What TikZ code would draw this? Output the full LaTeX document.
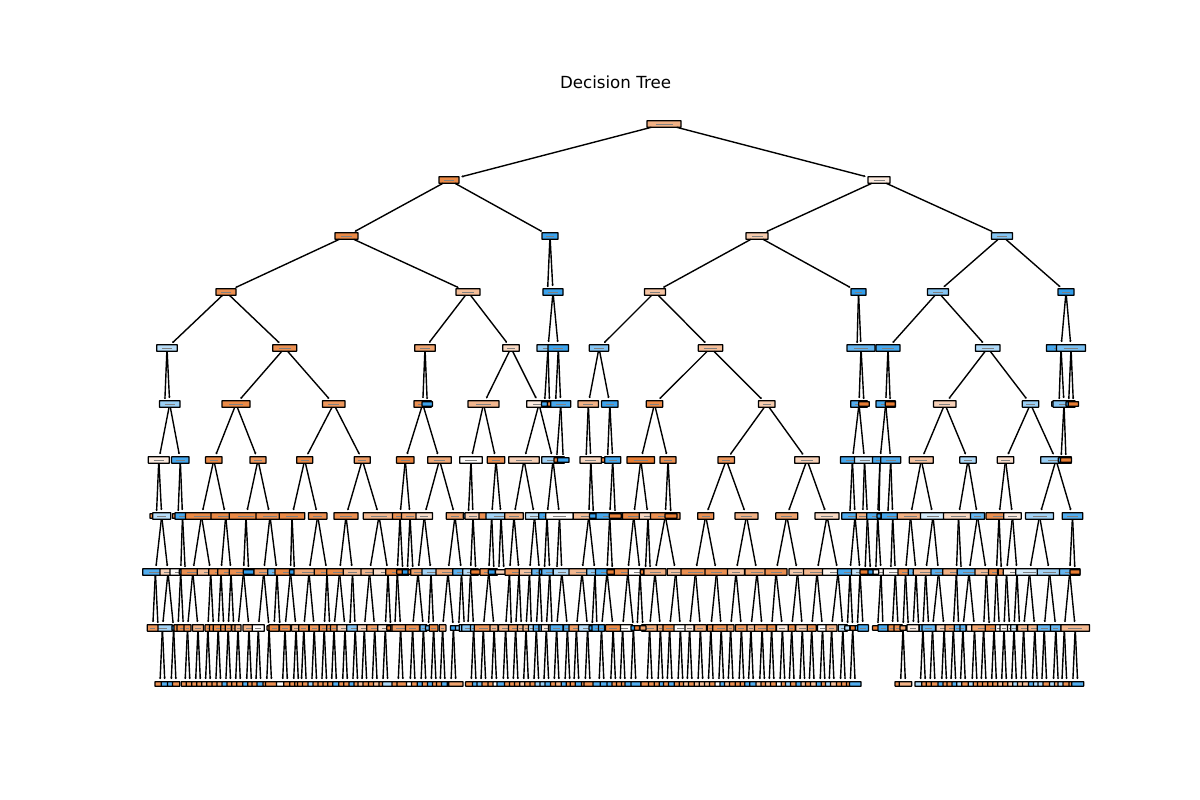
\documentclass[tikz,border=0pt]{standalone}
\usepackage{fontspec}
\setmainfont{DejaVu Sans}
\usetikzlibrary{arrows.meta}
\selectcolormodel{rgb}
\definecolor{O}{rgb}{0.91,0.49,0.20}
\definecolor{B}{rgb}{0.20,0.62,0.92}
\tikzset{
 tn/.style={draw=black,line width=1.25pt,rounded corners=0.4pt,inner sep=0pt,outer sep=0pt,minimum height=6.6pt},
 tl/.style={tn,minimum height=4.6pt},
 ln/.style={draw=black,line width=1.4pt,shorten >=2.5pt,-{Stealth[length=1.6pt,width=2.4pt]}}
}
\def\ya{124}\def\yb{180}\def\yc{236}\def\yd{292}\def\ye{348}\def\yf{404}\def\yg{460}\def\yh{516}\def\yi{572}\def\yj{628}\def\yk{684}
% \tnod{level}{x in tenths of px}{half width in tenths}{colour}
\newcommand{\tnod}[4]{\node[tn,minimum width=#3*0.2pt,fill=#4] (#1#2) at (#2,\csname y#1\endcsname) {\textcolor{black!50}{\rule{\dimexpr#3pt/10\relax}{0.5pt}}};}
\newcommand{\tlf}[4]{\node[tl,minimum width=#3*0.2pt,fill=#4] (#1#2) at (#2,\csname y#1\endcsname) {};}
\newcommand{\ted}[3]{\draw[ln] (#1) -- (#2);\draw[ln] (#1) -- (#3);}
% \tpw{parent x}{left colour}{right colour}{left hw}{right hw}
\newcommand{\tpw}[5]{\node[tl,minimum width=#4*0.2pt,fill=#2] (k#1a) at (#1-25,684) {};\node[tl,minimum width=#5*0.2pt,fill=#3] (k#1b) at (#1+25,684) {};\ted{j#1}{k#1a}{k#1b}}
\newcommand{\tp}[3]{\tpw{#1}{#2}{#3}{37}{37}}
\begin{document}
\begin{tikzpicture}[x=0.1pt,y=-1pt]
\useasboundingbox (0,0) rectangle (12000,800);
\node[font=\fontsize{16.67}{20}\selectfont,inner sep=0pt] (title) at (6155,82) {Decision Tree};
% level 0-3
\tnod{a}{6640}{170}{O!60}
\tnod{b}{4490}{100}{O!90}\tnod{b}{8790}{110}{O!15}
\tnod{c}{3465}{115}{O!90}\tnod{c}{5500}{80}{B!95}\tnod{c}{7570}{110}{O!40}\tnod{c}{10020}{105}{B!60}
\tnod{d}{2260}{100}{O!85}\tnod{d}{4680}{120}{O!50}\tlf{d}{5475}{40}{B!90}\tnod{d}{5530}{100}{B!95}\tnod{d}{6550}{105}{O!45}\tnod{d}{8585}{75}{B!100}\tnod{d}{9380}{105}{B!60}\tnod{d}{10660}{80}{B!100}
% level 4
\tnod{e}{1670}{103}{B!35}\tnod{e}{2847}{120}{O!85}\tnod{e}{4250}{103}{O!70}\tnod{e}{5110}{83}{O!30}\tnod{e}{5480}{110}{B!55}\tnod{e}{5583}{103}{B!95}\tnod{e}{5990}{97}{B!60}\tnod{e}{7105}{122}{O!50}\tlf{e}{8570}{50}{B!80}\tnod{e}{8610}{140}{B!75}\tnod{e}{8880}{120}{B!90}\tnod{e}{9877}{123}{B!40}\tnod{e}{10610}{145}{B!90}\tnod{e}{10710}{145}{B!65}
% level 5
\tlf{f}{1647}{30}{B!50}\tnod{f}{1697}{103}{B!50}\tnod{f}{2360}{140}{O!90}\tnod{f}{3337}{113}{O!80}\tnod{f}{4227}{87}{O!85}\tlf{f}{4273}{53}{B!95}\tnod{f}{4835}{155}{O!55}\tnod{f}{5390}{123}{O!15}\tlf{f}{5445}{30}{B!90}\tlf{f}{5495}{20}{O!90}\tlf{f}{5555}{30}{O!90}\tnod{f}{5607}{100}{B!90}\tnod{f}{5883}{103}{O!60}\tnod{f}{6098}{82}{B!95}\tnod{f}{6545}{82}{O!90}\tnod{f}{7667}{83}{O!40}\tnod{f}{8590}{83}{B!85}\tlf{f}{8640}{53}{O!100}\tnod{f}{8857}{97}{B!90}\tlf{f}{8903}{50}{O!100}\tnod{f}{9448}{112}{O!35}\tnod{f}{10305}{82}{B!50}\tlf{f}{10590}{73}{B!60}\tnod{f}{10640}{110}{B!60}\tlf{f}{10686}{27}{B!95}\tlf{f}{10734}{52}{O!100}
% level 6
\tnod{g}{1588}{105}{O!15}\tnod{g}{1803}{87}{B!90}\tnod{g}{2138}{82}{O!90}\tnod{g}{2580}{80}{O!80}\tnod{g}{3047}{80}{O!90}\tnod{g}{3623}{80}{O!75}\tnod{g}{4053}{87}{O!95}\tnod{g}{4395}{118}{O!65}\tnod{g}{4710}{113}{O!3}\tnod{g}{4960}{87}{O!85}\tnod{g}{5240}{153}{O!35}\tnod{g}{5530}{113}{B!45}\tlf{g}{5565}{25}{O!95}\tlf{g}{5633}{58}{B!95}\tlf{g}{5860}{30}{O!90}\tnod{g}{5908}{108}{O!30}\tlf{g}{6075}{60}{O!90}\tnod{g}{6127}{80}{B!90}\tnod{g}{6408}{138}{O!100}\tnod{g}{6680}{80}{O!85}\tnod{g}{7263}{83}{O!80}\tnod{g}{8070}{123}{O!35}\tnod{g}{8524}{120}{B!90}\tnod{g}{8645}{100}{B!25}\tnod{g}{8800}{75}{B!90}\tnod{g}{8907}{100}{B!85}\tnod{g}{9213}{120}{O!45}\tnod{g}{9680}{82}{B!40}\tnod{g}{10055}{82}{O!25}\tnod{g}{10560}{153}{B!50}\tlf{g}{10610}{27}{B!95}\tlf{g}{10660}{55}{O!100}
% level 7
\tlf{h}{1564}{64}{O!90}\tnod{h}{1617}{90}{B!35}\tlf{h}{1780}{55}{O!90}\tnod{h}{1825}{75}{B!90}\tnod{h}{2015}{160}{O!90}\tnod{h}{2257}{147}{O!90}\tnod{h}{2460}{167}{O!90}\tnod{h}{2700}{140}{O!85}\tnod{h}{2920}{127}{O!90}\tnod{h}{3177}{92}{O!85}\tnod{h}{3460}{120}{O!85}\tnod{h}{3790}{157}{O!55}\tnod{h}{4000}{75}{O!85}\tnod{h}{4100}{85}{O!70}\tnod{h}{4243}{83}{O!25}\tnod{h}{4550}{87}{O!70}\tlf{h}{4683}{50}{B!90}\tnod{h}{4730}{80}{O!35}\tnod{h}{4917}{127}{O!85}\tnod{h}{5010}{150}{B!45}\tnod{h}{5140}{93}{O!60}\tnod{h}{5345}{90}{B!30}\tnod{h}{5470}{83}{B!90}\tnod{h}{5595}{138}{O!2}\tnod{h}{5888}{155}{O!50}\tlf{h}{5935}{40}{B!95}\tnod{h}{6097}{137}{B!90}\tlf{h}{6153}{60}{O!95}\tnod{h}{6337}{113}{O!90}\tnod{h}{6480}{87}{O!30}\tnod{h}{6653}{147}{O!85}\tlf{h}{6710}{60}{O!100}\tnod{h}{7057}{80}{O!85}\tnod{h}{7465}{115}{O!60}\tnod{h}{7868}{110}{O!70}\tnod{h}{8270}{120}{O!30}\tlf{h}{8497}{30}{B!90}\tnod{h}{8550}{133}{B!85}\tnod{h}{8674}{60}{B!85}\tnod{h}{8627}{65}{O!60}\tnod{h}{8777}{110}{B!85}\tlf{h}{8790}{20}{B!100}\tlf{h}{8877}{30}{B!90}\tnod{h}{8927}{115}{B!90}\tnod{h}{9105}{132}{O!60}\tnod{h}{9330}{125}{B!20}\tnod{h}{9585}{150}{O!30}\tnod{h}{9775}{70}{B!75}\tnod{h}{9990}{130}{O!85}\tnod{h}{10125}{87}{O!15}\tnod{h}{10395}{140}{B!45}\tnod{h}{10725}{103}{B!85}
% level 8
\tnod{i}{1554}{127}{B!85}\tnod{i}{1680}{80}{O!35}\tnod{i}{1807}{107}{O!3}\tlf{i}{1853}{60}{B!100}\tnod{i}{1928}{118}{O!85}\tnod{i}{2107}{134}{O!50}\tnod{i}{2210}{123}{O!85}\tnod{i}{2310}{133}{O!85}\tnod{i}{2435}{142}{O!85}\tlf{i}{2487}{54}{B!100}\tnod{i}{2637}{97}{O!75}\tnod{i}{2770}{93}{B!70}\tnod{i}{2905}{155}{O!90}\tlf{i}{2945}{50}{B!100}\tnod{i}{3090}{150}{O!65}\tnod{i}{3270}{127}{O!85}\tnod{i}{3395}{128}{O!90}\tnod{i}{3525}{92}{O!50}\tnod{i}{3695}{85}{O!55}\tnod{i}{3880}{147}{O!25}\tnod{i}{3973}{116}{O!90}\tlf{i}{4028}{60}{O!100}\tlf{i}{4073}{50}{B!100}\tlf{i}{4130}{50}{O!100}\tnod{i}{4180}{73}{O!70}\tnod{i}{4310}{90}{B!45}\tnod{i}{4480}{120}{O!65}\tnod{i}{4615}{88}{B!80}\tnod{i}{4705}{78}{B!35}\tlf{i}{4758}{50}{O!100}\tnod{i}{4887}{87}{O!80}\tlf{i}{4940}{57}{B!100}\tlf{i}{4987}{35}{O!35}\tlf{i}{5040}{85}{O!35}\tnod{i}{5095}{40}{O!80}\tnod{i}{5190}{140}{O!80}\tnod{i}{5295}{103}{O!45}\tnod{i}{5395}{78}{B!75}\tlf{i}{5443}{50}{B!100}\tnod{i}{5497}{80}{B!75}\tlf{i}{5567}{35}{B!50}\tnod{i}{5618}{85}{B!35}\tnod{i}{5820}{130}{O!55}\tnod{i}{5950}{83}{B!55}\tnod{i}{6070}{115}{B!90}\tlf{i}{6125}{55}{O!100}\tnod{i}{6278}{135}{O!85}\tnod{i}{6400}{117}{O!2}\tlf{i}{6453}{50}{O!100}\tlf{i}{6503}{65}{O!60}\tnod{i}{6550}{110}{O!60}\tnod{i}{6757}{85}{O!45}\tnod{i}{6955}{145}{O!85}\tnod{i}{7165}{115}{O!85}\tnod{i}{7360}{85}{O!45}\tnod{i}{7570}{120}{O!70}\tnod{i}{7760}{110}{O!85}\tnod{i}{7975}{85}{O!40}\tnod{i}{8170}{135}{O!55}\tnod{i}{8380}{155}{O!7}\tnod{i}{8500}{125}{B!90}\tnod{i}{8600}{85}{B!30}\tnod{i}{8810}{127}{O!5}\tlf{i}{8757}{30}{O!5}\tlf{i}{8650}{50}{O!100}\tlf{i}{8705}{25}{B!100}\tlf{i}{8907}{30}{O!3}\tnod{i}{8953}{120}{O!3}\tnod{i}{9055}{75}{O!85}\tnod{i}{9160}{78}{B!75}\tnod{i}{9257}{124}{O!50}\tnod{i}{9385}{75}{B!80}\tnod{i}{9564}{137}{O!60}\tlf{i}{9613}{40}{B!80}\tnod{i}{9690}{117}{B!80}\tnod{i}{9863}{113}{O!50}\tnod{i}{9964}{80}{O!85}\tlf{i}{10014}{40}{O!100}\tnod{i}{10065}{82}{O!85}\tnod{i}{10170}{137}{O!7}\tnod{i}{10295}{138}{B!20}\tnod{i}{10495}{122}{B!45}\tnod{i}{10697}{103}{B!75}\tlf{i}{10750}{50}{O!100}
% level 9
\tlf{j}{1581}{30}{O!80}\tnod{j}{1624}{100}{B!45}\tnod{j}{1527}{54}{O!80}\tlf{j}{1736}{17}{B!100}\tnod{j}{1780}{40}{O!90}\tnod{j}{1834}{65}{O!90}\tnod{j}{1875}{35}{O!85}\tnod{j}{1980}{55}{O!60}\tnod{j}{2079}{28}{O!85}\tnod{j}{2135}{40}{O!90}\tnod{j}{2182}{50}{O!90}\tnod{j}{2238}{30}{O!90}\tnod{j}{2282}{30}{O!80}\tnod{j}{2338}{20}{O!80}\tnod{j}{2380}{30}{O!60}\tnod{j}{2490}{60}{O!60}\tnod{j}{2583}{60}{O!2}\tlf{j}{2691}{20}{O!90}\tlf{j}{2800}{30}{O!90}\tnod{j}{2740}{50}{O!90}\tnod{j}{2850}{55}{O!85}\tnod{j}{2960}{45}{O!50}\tnod{j}{3038}{50}{O!80}\tnod{j}{3142}{50}{O!80}\tnod{j}{3242}{50}{O!85}\tnod{j}{3298}{30}{O!85}\tnod{j}{3340}{35}{O!85}\tnod{j}{3450}{80}{O!35}\tlf{j}{3498}{30}{B!60}\tnod{j}{3552}{85}{B!60}\tnod{j}{3643}{70}{O!35}\tnod{j}{3747}{80}{O!75}\tnod{j}{3853}{75}{O!20}\tlf{j}{3907}{40}{O!100}\tnod{j}{3948}{40}{O!75}\tnod{j}{4006}{85}{O!75}\tnod{j}{4126}{70}{O!85}\tnod{j}{4234}{35}{B!75}\tlf{j}{4284}{30}{B!75}\tnod{j}{4336}{43}{O!90}\tnod{j}{4426}{33}{O!65}\tlf{j}{4534}{30}{B!100}\tlf{j}{4586}{30}{B!60}\tnod{j}{4644}{52}{B!60}\tnod{j}{4678}{60}{B!60}\tnod{j}{4736}{30}{B!60}\tnod{j}{4833}{90}{O!80}\tnod{j}{4941}{40}{O!55}\tnod{j}{5056}{70}{O!55}\tlf{j}{5114}{25}{B!100}\tnod{j}{5156}{70}{O!75}\tnod{j}{5214}{40}{O!55}\tnod{j}{5260}{30}{O!55}\tnod{j}{5314}{30}{B!35}\tnod{j}{5363}{30}{B!85}\tnod{j}{5421}{30}{B!85}\tnod{j}{5463}{50}{O!15}\tnod{j}{5521}{35}{O!15}\tnod{j}{5566}{65}{B!85}\tnod{j}{5674}{40}{B!85}\tnod{j}{5764}{75}{O!75}\tnod{j}{5876}{90}{B!35}\tlf{j}{5920}{30}{B!100}\tnod{j}{5970}{50}{B!90}\tnod{j}{6015}{30}{B!90}\tnod{j}{6226}{100}{O!2}\tnod{j}{6131}{75}{O!90}\tlf{j}{6334}{25}{B!100}\tlf{j}{6371}{25}{O!100}\tnod{j}{6496}{80}{O!65}\tlf{j}{6429}{30}{O!70}\tnod{j}{6604}{32}{O!65}\tnod{j}{6696}{65}{O!90}\tnod{j}{6804}{65}{O!2}\tnod{j}{6896}{45}{O!15}\tnod{j}{7004}{60}{O!65}\tnod{j}{7108}{35}{O!85}\tnod{j}{7212}{85}{O!85}\tnod{j}{7306}{35}{O!70}\tnod{j}{7414}{60}{O!80}\tnod{j}{7509}{40}{O!55}\tnod{j}{7621}{75}{O!75}\tnod{j}{7716}{45}{O!90}\tnod{j}{7824}{60}{O!20}\tnod{j}{7917}{35}{O!90}\tnod{j}{8023}{65}{O!40}\tnod{j}{8117}{45}{O!85}\tnod{j}{8225}{50}{O!2}\tnod{j}{8316}{55}{O!55}\tnod{j}{8428}{45}{B!35}\tlf{j}{8473}{25}{B!35}\tlf{j}{8573}{25}{B!90}\tlf{j}{8527}{25}{O!100}\tnod{j}{8631}{53}{B!90}\tlf{j}{8776}{50}{O!100}\tnod{j}{8830}{50}{B!90}\tnod{j}{8923}{43}{O!90}\tnod{j}{8981}{42}{O!85}\tlf{j}{9030}{30}{O!70}\tlf{j}{9084}{20}{B!100}\tlf{j}{9187}{20}{O!15}\tnod{j}{9130}{60}{O!15}\tnod{j}{9229}{37}{B!75}\tnod{j}{9325}{70}{B!75}\tnod{j}{9287}{68}{B!75}\tnod{j}{9441}{80}{O!35}\tnod{j}{9533}{83}{O!70}\tnod{j}{9587}{45}{B!80}\tnod{j}{9629}{30}{B!80}\tnod{j}{9745}{80}{O!20}\tnod{j}{9836}{118}{O!70}\tlf{j}{9894}{15}{B!100}\tnod{j}{9940}{87}{O!90}\tnod{j}{9994}{40}{O!2}\tnod{j}{10040}{40}{O!7}\tnod{j}{10096}{20}{O!7}\tnod{j}{10140}{33}{B!25}\tnod{j}{10196}{31}{B!25}\tnod{j}{10236}{60}{O!55}\tnod{j}{10348}{70}{O!55}\tnod{j}{10442}{70}{B!75}\tnod{j}{10558}{52}{B!75}\tnod{j}{10643}{30}{B!75}\tnod{j}{10752}{143}{O!55}
% connectors
\ted{a6640}{b4490}{b8790}
\ted{b4490}{c3465}{c5500}\ted{b8790}{c7570}{c10020}
\ted{c3465}{d2260}{d4680}\ted{c5500}{d5475}{d5530}\ted{c7570}{d6550}{d8585}\ted{c10020}{d9380}{d10660}
\ted{d2260}{e1670}{e2847}\ted{d4680}{e4250}{e5110}\ted{d5530}{e5480}{e5583}\ted{d6550}{e5990}{e7105}\ted{d8585}{e8570}{e8610}\ted{d9380}{e8880}{e9877}\ted{d10660}{e10610}{e10710}
\ted{e1670}{f1647}{f1697}\ted{e2847}{f2360}{f3337}\ted{e4250}{f4227}{f4273}\ted{e5110}{f4835}{f5390}\ted{e5480}{f5445}{f5495}\ted{e5583}{f5555}{f5607}\ted{e5990}{f5883}{f6098}\ted{e7105}{f6545}{f7667}\ted{e8610}{f8590}{f8640}\ted{e8880}{f8857}{f8903}\ted{e9877}{f9448}{f10305}\ted{e10610}{f10590}{f10640}\ted{e10710}{f10686}{f10734}
\ted{f1697}{g1588}{g1803}\ted{f2360}{g2138}{g2580}\ted{f3337}{g3047}{g3623}\ted{f4227}{g4053}{g4395}\ted{f4835}{g4710}{g4960}\ted{f5390}{g5240}{g5530}\ted{f5607}{g5565}{g5633}\ted{f5883}{g5860}{g5908}\ted{f6098}{g6075}{g6127}\ted{f6545}{g6408}{g6680}\ted{f7667}{g7263}{g8070}\ted{f8590}{g8524}{g8645}\ted{f8857}{g8800}{g8907}\ted{f9448}{g9213}{g9680}\ted{f10305}{g10055}{g10560}\ted{f10640}{g10610}{g10660}
\ted{g1588}{h1564}{h1617}\ted{g1803}{h1780}{h1825}\ted{g2138}{h2015}{h2257}\ted{g2580}{h2460}{h2700}\ted{g3047}{h2920}{h3177}\ted{g3623}{h3460}{h3790}\ted{g4053}{h4000}{h4100}\ted{g4395}{h4243}{h4550}\ted{g4710}{h4683}{h4730}\ted{g4960}{h4917}{h5010}\ted{g5240}{h5140}{h5345}\ted{g5530}{h5470}{h5595}\ted{g5908}{h5888}{h5935}\ted{g6127}{h6097}{h6153}\ted{g6408}{h6337}{h6480}\ted{g6680}{h6653}{h6710}\ted{g7263}{h7057}{h7465}\ted{g8070}{h7868}{h8270}\ted{g8524}{h8497}{h8550}\ted{g8645}{h8627}{h8674}\ted{g8800}{h8777}{h8790}\ted{g8907}{h8877}{h8927}\ted{g9213}{h9105}{h9330}\ted{g9680}{h9585}{h9775}\ted{g10055}{h9990}{h10125}\ted{g10560}{h10395}{h10725}
\ted{h1617}{i1554}{i1680}\ted{h1825}{i1807}{i1853}\ted{h2015}{i1928}{i2107}\ted{h2257}{i2210}{i2310}\ted{h2460}{i2435}{i2487}\ted{h2700}{i2637}{i2770}\ted{h2920}{i2905}{i2945}\ted{h3177}{i3090}{i3270}\ted{h3460}{i3395}{i3525}\ted{h3790}{i3695}{i3880}\ted{h4000}{i3973}{i4028}\ted{h4100}{i4073}{i4130}\ted{h4243}{i4180}{i4310}\ted{h4550}{i4480}{i4615}\ted{h4730}{i4705}{i4758}\ted{h4917}{i4887}{i4940}\ted{h5010}{i4987}{i5040}\ted{h5140}{i5095}{i5190}\ted{h5345}{i5295}{i5395}\ted{h5470}{i5443}{i5497}\ted{h5595}{i5567}{i5618}\ted{h5888}{i5820}{i5950}\ted{h6097}{i6070}{i6125}\ted{h6337}{i6278}{i6400}\ted{h6480}{i6453}{i6503}\ted{h6653}{i6550}{i6757}\ted{h7057}{i6955}{i7165}\ted{h7465}{i7360}{i7570}\ted{h7868}{i7760}{i7975}\ted{h8270}{i8170}{i8380}\ted{h8550}{i8500}{i8600}\ted{h8674}{i8650}{i8705}\ted{h8777}{i8757}{i8810}\ted{h8927}{i8907}{i8953}\ted{h9105}{i9055}{i9160}\ted{h9330}{i9257}{i9385}\ted{h9585}{i9564}{i9613}\ted{h9775}{i9690}{i9863}\ted{h9990}{i9964}{i10014}\ted{h10125}{i10065}{i10170}\ted{h10395}{i10295}{i10495}\ted{h10725}{i10697}{i10750}
\ted{i1554}{j1527}{j1581}\ted{i1680}{j1624}{j1736}\ted{i1807}{j1780}{j1834}\ted{i1928}{j1875}{j1980}\ted{i2107}{j2079}{j2135}\ted{i2210}{j2182}{j2238}\ted{i2310}{j2282}{j2338}\ted{i2435}{j2380}{j2490}\ted{i2637}{j2583}{j2691}\ted{i2770}{j2740}{j2800}\ted{i2905}{j2850}{j2960}\ted{i3090}{j3038}{j3142}\ted{i3270}{j3242}{j3298}\ted{i3395}{j3340}{j3450}\ted{i3525}{j3498}{j3552}\ted{i3695}{j3643}{j3747}\ted{i3880}{j3853}{j3907}\ted{i3973}{j3948}{j4006}\ted{i4180}{j4126}{j4234}\ted{i4310}{j4284}{j4336}\ted{i4480}{j4426}{j4534}\ted{i4615}{j4586}{j4644}\ted{i4705}{j4678}{j4736}\ted{i4887}{j4833}{j4941}\ted{i5095}{j5056}{j5114}\ted{i5190}{j5156}{j5214}\ted{i5295}{j5260}{j5314}\ted{i5395}{j5363}{j5421}\ted{i5497}{j5463}{j5521}\ted{i5618}{j5566}{j5674}\ted{i5820}{j5764}{j5876}\ted{i5950}{j5920}{j5970}\ted{i6070}{j6015}{j6131}\ted{i6278}{j6226}{j6334}\ted{i6400}{j6371}{j6429}\ted{i6550}{j6496}{j6604}\ted{i6757}{j6696}{j6804}\ted{i6955}{j6896}{j7004}\ted{i7165}{j7108}{j7212}\ted{i7360}{j7306}{j7414}\ted{i7570}{j7509}{j7621}\ted{i7760}{j7716}{j7824}\ted{i7975}{j7917}{j8023}\ted{i8170}{j8117}{j8225}\ted{i8380}{j8316}{j8428}\ted{i8500}{j8473}{j8527}\ted{i8600}{j8573}{j8631}\ted{i8810}{j8776}{j8830}\ted{i8953}{j8923}{j8981}\ted{i9055}{j9030}{j9084}\ted{i9160}{j9130}{j9187}\ted{i9257}{j9229}{j9287}\ted{i9385}{j9325}{j9441}\ted{i9564}{j9533}{j9587}\ted{i9690}{j9629}{j9745}\ted{i9863}{j9836}{j9894}\ted{i9964}{j9940}{j9994}\ted{i10065}{j10040}{j10096}\ted{i10170}{j10140}{j10196}\ted{i10295}{j10236}{j10348}\ted{i10495}{j10442}{j10558}\ted{i10697}{j10643}{j10752}
% level 10 with its connectors
\tpw{1624}{O!85}{B!85}{50}{37}\tp{1736}{B!85}{O!85}\tp{1875}{O!85}{O!85}\tp{1980}{O!85}{O!85}\tp{2079}{O!60}{O!85}\tp{2182}{O!85}{O!70}\tp{2282}{B!85}{O!85}\tp{2380}{O!85}{O!85}\tp{2490}{B!85}{O!85}\tp{2583}{O!85}{B!85}\tpw{2691}{O!85}{O!85}{37}{60}\tpw{2850}{O!2}{O!85}{60}{37}\tp{2960}{O!85}{O!85}\tp{3038}{O!85}{O!85}\tp{3142}{B!50}{O!85}\tp{3242}{O!85}{O!85}\tp{3340}{O!85}{B!85}\tp{3450}{O!85}{O!85}\tp{3552}{B!85}{O!85}\tp{3643}{O!50}{O!85}\tp{3747}{O!85}{O!50}\tpw{3853}{O!85}{B!40}{37}{52}\tpw{4006}{O!85}{O!85}{60}{60}\tp{4126}{O!2}{O!85}\tp{4234}{B!85}{O!85}\tp{4336}{B!85}{O!85}\tp{4426}{O!85}{B!85}\tpw{4534}{O!85}{O!70}{37}{72}
\tpw{4736}{O!85}{B!85}{55}{37}\tp{4833}{B!70}{O!85}\tp{4941}{O!85}{O!2}\tpw{5056}{B!85}{O!85}{60}{37}\tp{5156}{O!85}{O!85}\tp{5260}{O!40}{O!85}\tp{5363}{O!85}{B!50}\tp{5463}{B!50}{B!85}\tp{5566}{O!85}{O!60}\tp{5674}{B!85}{O!85}\tp{5764}{O!85}{B!85}\tpw{5876}{O!85}{O!85}{37}{60}\tpw{6015}{B!85}{B!85}{60}{37}\tp{6131}{B!85}{O!85}\tp{6226}{O!85}{O!85}\tpw{6334}{B!85}{B!85}{60}{50}\tpw{6496}{O!85}{O!85}{60}{37}\tp{6604}{O!85}{B!85}\tp{6696}{O!85}{B!85}\tp{6804}{O!85}{O!85}\tp{6896}{O!50}{O!85}\tp{7004}{O!50}{O!50}\tp{7108}{O!50}{O!85}\tp{7212}{O!2}{B!85}\tp{7306}{O!50}{O!85}\tp{7414}{O!85}{O!85}\tp{7509}{B!85}{B!85}\tp{7621}{O!40}{O!85}\tp{7716}{O!50}{O!85}\tp{7824}{O!2}{O!85}\tp{7917}{B!50}{O!85}\tp{8023}{B!85}{O!50}\tp{8117}{O!85}{O!50}\tp{8225}{B!85}{O!85}\tp{8316}{B!40}{O!50}\tp{8428}{O!85}{O!85}\tpw{8527}{O!85}{B!85}{37}{58}
\tpw{9030}{O!85}{O!60}{55}{62}
\tpw{9229}{B!40}{O!85}{55}{37}\tp{9325}{O!85}{O!85}\tp{9441}{B!85}{O!85}\tp{9533}{O!85}{B!85}\tp{9629}{B!40}{O!85}\tp{9745}{B!40}{O!85}\tp{9836}{O!85}{O!85}\tp{9940}{O!85}{O!85}\tp{10040}{O!50}{O!85}\tp{10140}{O!40}{B!40}\tp{10236}{O!50}{O!50}\tp{10348}{B!85}{B!40}\tp{10442}{B!40}{O!85}\tp{10558}{B!40}{O!70}\tp{10643}{B!40}{O!85}\tpw{10752}{O!85}{B!85}{37}{60}
\end{tikzpicture}
\end{document}
